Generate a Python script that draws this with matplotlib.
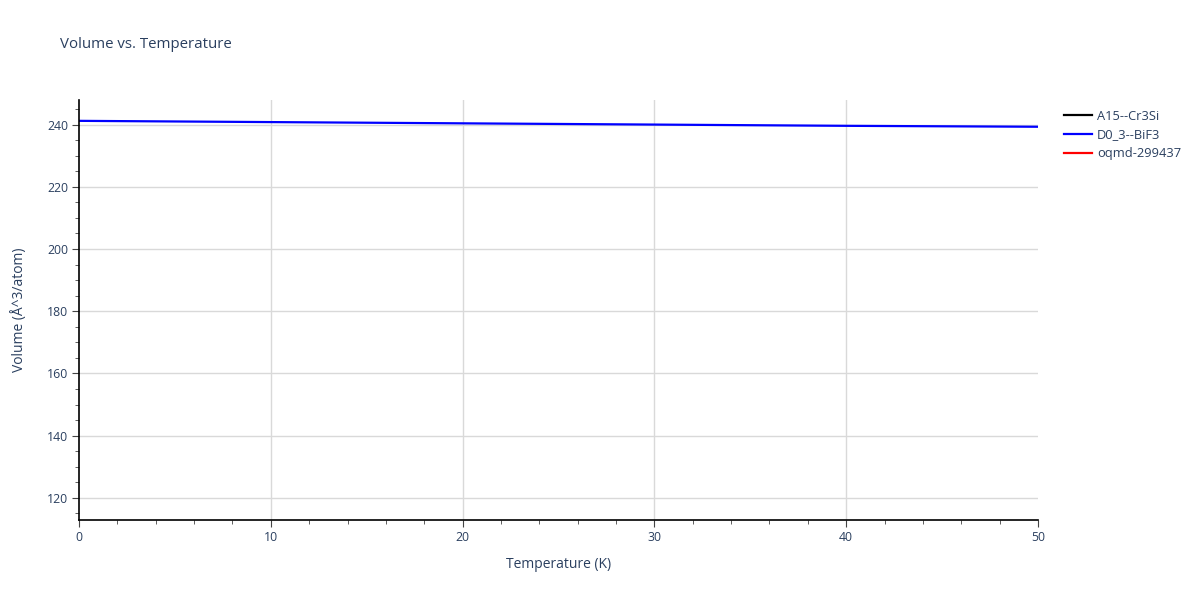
import numpy as np
import matplotlib.pyplot as plt
from matplotlib.ticker import MultipleLocator

# data
temperature = [0, 5, 10, 15, 20, 25, 30, 35, 40, 45, 50]
vol_d03 = [241.2, 241.0, 240.8, 240.6, 240.4, 240.2, 240.0, 239.8, 239.6, 239.45, 239.3]
vol_a15 = []
vol_oqmd = []
temp_a15 = []
temp_oqmd = []

series = [
    ("A15--Cr3Si", temp_a15, vol_a15, "black"),
    ("D0_3--BiF3", temperature, vol_d03, "blue"),
    ("oqmd-299437", temp_oqmd, vol_oqmd, "red"),
]

txt = "#2a3f5f"
plt.rcParams['font.family'] = ['Open Sans', 'DejaVu Sans']

fig = plt.figure(figsize=(12, 6), dpi=100)
ax = fig.add_axes([79/1200, 80/600, (1038-79)/1200, 420/600])

for name, xs, ys, c in series:
    ax.plot(xs, ys, color=c, lw=1.6, label=name)

ax.set_xlim(0, 50)
ax.set_ylim(112.9, 247.9)
ax.xaxis.set_major_locator(MultipleLocator(10))
ax.xaxis.set_minor_locator(MultipleLocator(2))
ax.yaxis.set_major_locator(MultipleLocator(20))
ax.yaxis.set_minor_locator(MultipleLocator(5))
ax.grid(True, axis='y', which='major', color='#d9d9d9', lw=1)
# vertical grid only inside the range, as plotly does
for xt in ax.get_xticks():
    if 0 < xt < 50:
        ax.axvline(xt, color='#d9d9d9', lw=1, zorder=0)
ax.set_axisbelow(True)
for s in ['top', 'right']:
    ax.spines[s].set_visible(False)
for s in ['left', 'bottom']:
    ax.spines[s].set_color('black')
    ax.spines[s].set_linewidth(1.2)
ax.tick_params(which='major', length=5, color='#444444', labelsize=8.8, labelcolor=txt, pad=3)
ax.tick_params(which='minor', length=3, color='#444444')

ax.set_xlabel("Temperature (K)", fontsize=10, color=txt, labelpad=9)
ax.set_ylabel("Volume (Å^3/atom)", fontsize=10, color=txt, labelpad=14)
fig.text(60/1200, 1 - 45/600, "Volume vs. Temperature", fontsize=10.8, color=txt, va='center')

leg = fig.legend(loc='upper left', bbox_to_anchor=(1052/1200, 1 - 98/600), frameon=False,
                 fontsize=9.3, handlelength=2.2, labelspacing=0.45, handletextpad=0.4)
for t in leg.get_texts():
    t.set_color(txt)

fig.savefig("out.png", dpi=100)
